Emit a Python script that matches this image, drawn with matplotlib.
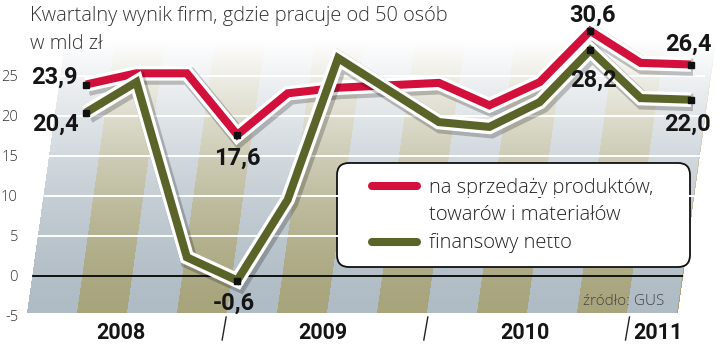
import numpy as np
import matplotlib
matplotlib.use("Agg")
import matplotlib.pyplot as plt
from matplotlib import patheffects as pe
from matplotlib.patches import Polygon, FancyBboxPatch
from matplotlib.lines import Line2D

# ---------------- data ----------------
quarters = ["I 08", "II 08", "III 08", "IV 08", "I 09", "II 09", "III 09", "IV 09",
            "I 10", "II 10", "III 10", "IV 10", "I 11"]
sales_result = [23.9, 25.3, 25.3, 17.6, 22.8, 23.5, 23.8, 24.1, 21.3, 24.2, 30.6, 26.6, 26.4]
financial_result = [20.4, 24.2, 2.3, -0.6, 9.5, 27.2, 23.2, 19.2, 18.6, 21.7, 28.2, 22.2, 22.0]
labelled_points = [0, 3, 10, 12]
years = ["2008", "2009", "2010", "2011"]
y_ticks = [-5, 0, 5, 10, 15, 20, 25]
title_lines = ["Kwartalny wynik firm, gdzie pracuje od 50 osób", "w mld zł"]
legend_labels = ["na sprzedaży produktów,", "towarów i materiałów", "finansowy netto"]
source = "źródło: GUS"

# ---------------- style ----------------
RED = "#d3103b"
GREEN = "#5a6328"
LIGHT = dict(family=["Open Sans", "Roboto", "DejaVu Sans"], weight="light")
BOLD = dict(family=["Roboto", "DejaVu Sans"], weight="bold")
W, H = 720, 362

fig = plt.figure(figsize=(7.2, 3.62), dpi=100)
fig.patch.set_facecolor("white")

# background (pixel coordinates)
ax_bg = fig.add_axes([0, 0, 1, 1], zorder=0)
ax_bg.axis("off")
yy, xx = np.mgrid[0:H, 0:W] + 0.5
SLANT, BOT, TOP, LEFT0, RIGHT0 = 0.14, 313.0, 40.0, 27.0, 678.0
shift = SLANT * (BOT - yy)
inside = (yy <= BOT) & (yy >= TOP) & (xx >= LEFT0 + shift) & (xx <= RIGHT0 + shift)
stripe = ((xx - 77 - shift) % 100) < 50
bg_col = np.array([176, 188, 197]) / 255
st_col = np.array([168, 165, 125]) / 255
base = np.where(stripe[..., None], st_col, bg_col)
t = np.clip((BOT - yy) / (BOT - TOP), 0, 1)
wgt = t ** 1.5
img = base * (1 - wgt[..., None]) + wgt[..., None]
img[~inside] = 1.0
ax_bg.imshow(img, extent=(0, W, H, 0), interpolation="bilinear")
ax_bg.set_xlim(0, W)
ax_bg.set_ylim(H, 0)
clip_poly = Polygon([(LEFT0, BOT), (RIGHT0, BOT),
                     (RIGHT0 + SLANT * (BOT - TOP), TOP), (LEFT0 + SLANT * (BOT - TOP), TOP)],
                    closed=True, transform=ax_bg.transData)

# main axes
x0_px, dx_px = 86.0, 50.42
ax_left_px, ax_right_px = 28.0, 705.0
y0_px, dy_px = 275.7, 8.0
ymin, ymax = -5, 32
ax_bot_px = y0_px - ymin * dy_px
ax_top_px = y0_px - ymax * dy_px
xmin = -(x0_px - ax_left_px) / dx_px
xmax = (ax_right_px - x0_px) / dx_px
ax = fig.add_axes([ax_left_px / W, 1 - ax_bot_px / H,
                   (ax_right_px - ax_left_px) / W, (ax_bot_px - ax_top_px) / H], zorder=1)
ax.patch.set_alpha(0)
ax.set_xlim(xmin, xmax)
ax.set_ylim(ymin, ymax)
for s in ax.spines.values():
    s.set_visible(False)
ax.set_xticks([])
ax.set_yticks(y_ticks)
ax.set_yticklabels([str(v) for v in y_ticks], **LIGHT)
ax.tick_params(axis="y", length=0, pad=7.2, labelsize=10.5, labelcolor="#333333")

def yfrac(p):
    return (ax_bot_px - p) / (ax_bot_px - ax_top_px)

for v in y_ticks:
    if v > 0:
        ln = ax.axhline(v, color="white", lw=1.4, zorder=1)
        ln.set_clip_path(clip_poly)
zl = ax.axhline(0, color="#111111", lw=1.4, zorder=1.5)
zl.set_clip_path(clip_poly)

x = np.arange(len(quarters))

def draw(y, color, z):
    ax.plot(x, y, color=color, lw=5.8, solid_joinstyle="miter", solid_capstyle="butt",
            zorder=z,
            path_effects=[pe.SimpleLineShadow(offset=(1.5, -2), shadow_color="#000000",
                                              alpha=0.22, linewidth=12.5),
                          pe.Stroke(linewidth=10.5, foreground="white"),
                          pe.Normal()])

draw(sales_result, RED, 3)
draw(financial_result, GREEN, 4)

sales_arr = np.array(sales_result)
fin_arr = np.array(financial_result)
idx = np.array(labelled_points)
ax.plot(x[idx], sales_arr[idx], "s", ms=5, color="#111111", zorder=6)
ax.plot(x[idx], fin_arr[idx], "s", ms=5, color="#111111", zorder=6)

def fmt(v):
    return f"{v:.1f}".replace(".", ",")

sales_off = {0: (-8, 7, "right"), 3: (0, -23, "center"), 10: (2, 16, "center"), 12: (-3, 20, "center")}
fin_off = {0: (-7, -12, "right"), 3: (-3, -23, "center"), 10: (3, -30, "center"), 12: (-4, -25, "center")}
for arr, offs in ((sales_arr, sales_off), (fin_arr, fin_off)):
    for i in labelled_points:
        dx, dy, ha = offs[i]
        ax.annotate(fmt(arr[i]), (x[i], arr[i]), xytext=(dx, dy), textcoords="offset pixels",
                    ha=ha, va="center", fontsize=17, color="#151515", zorder=7,
                    annotation_clip=False, **BOLD)

# years and separators
bounds = [2.7, 6.7, 10.7]
centers = [b - 2 for b in bounds] + [bounds[-1] + 0.65]
for c, yr in zip(centers, years):
    ax.text(c, yfrac(333), yr, transform=ax.get_xaxis_transform(), ha="center", va="center",
            fontsize=15.5, color="#151515", clip_on=False, **BOLD)
for b in bounds:
    ax.add_line(Line2D([b, b + 4 / dx_px], [yfrac(340), yfrac(317)],
                       transform=ax.get_xaxis_transform(), color="#222222", lw=1.0,
                       clip_on=False))

# legend box (pixel coordinates)
ax_bg.add_patch(FancyBboxPatch((337, 163), 353, 104,
                               boxstyle="round,pad=0,rounding_size=12",
                               fc="white", ec="#111111", lw=1.3, zorder=3))
ax_bg.add_line(Line2D([372, 417], [186, 186], lw=5.8, color=RED, solid_capstyle="round", zorder=4))
ax_bg.add_line(Line2D([372, 417], [242, 242], lw=5.8, color=GREEN, solid_capstyle="round", zorder=4))
for txt, yb in zip(legend_labels, [193, 220, 248]):
    ax_bg.text(429, yb, txt, ha="left", va="baseline", fontsize=14.5, color="#222222", zorder=4, **LIGHT)
ax_bg.text(583, 305, source, ha="left", va="baseline", fontsize=11, color="#444444", zorder=4, **LIGHT)

# title
ax_bg.text(30, 21, title_lines[0], ha="left", va="baseline", fontsize=14.4, color="#333333", **LIGHT)
ax_bg.text(30, 49, title_lines[1], ha="left", va="baseline", fontsize=14.4, color="#333333", **LIGHT)

fig.savefig("out.png", dpi=100, facecolor="white")
